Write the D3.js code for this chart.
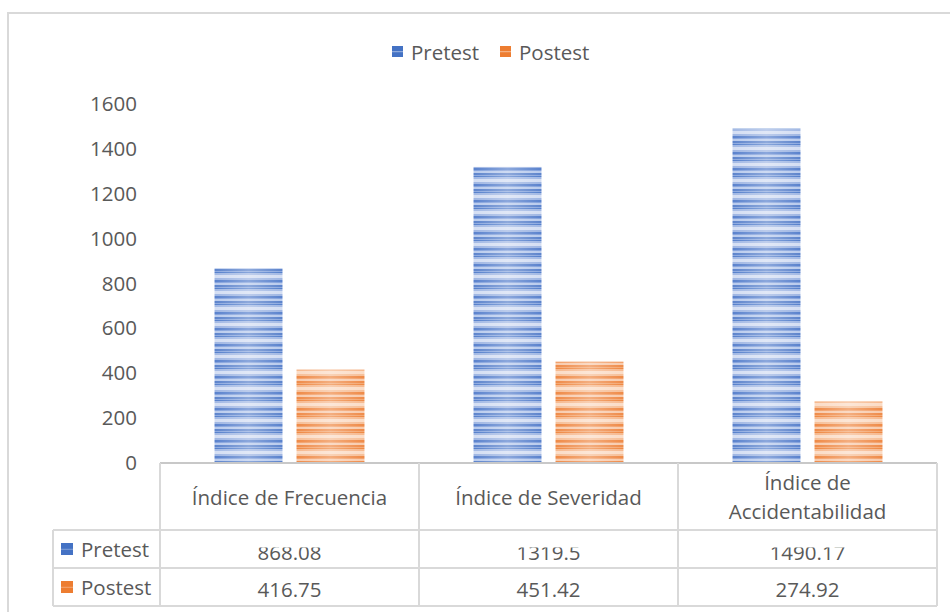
<!DOCTYPE html>
<html>
<head>
<meta charset="utf-8">
<script src="https://cdn.jsdelivr.net/npm/d3@7"></script>
<style>
  html, body { margin: 0; padding: 0; background: #fff; }
  svg { display: block; font-family: "Open Sans", "Noto Sans", sans-serif; }
</style>
</head>
<body>
<svg id="chart" width="950" height="612"></svg>
<script>
// ---- data ----
const categories = ["Índice de Frecuencia", "Índice de Severidad", "Índice de Accidentabilidad"];
const seriesNames = ["Pretest", "Postest"];
const pretestValues = [868.08, 1319.5, 1490.17];
const postestValues = [416.75, 451.42, 274.92];
const valueLabelsPretest = ["868.08", "1319.5", "1490.17"];
const valueLabelsPostest = ["416.75", "451.42", "274.92"];
const yTicks = [0, 200, 400, 600, 800, 1000, 1200, 1400, 1600];
const seriesColors = ["#4472C4", "#ED7D31"];

const seriesValues = [pretestValues, postestValues];
const seriesLabels = [valueLabelsPretest, valueLabelsPostest];

const svg = d3.select("#chart");
const textColor = "#595959";
const lineColor = "#d9d9d9";
const fs = 20.5;

// ---- layout ----
const plotLeft = 160, plotRight = 937;
const plotTop = 104, plotBottom = 463;
const headerBottom = 530, row1Bottom = 568, row2Bottom = 606;
const legendColLeft = 53;

// outer chart border
svg.append("rect").attr("x", 8).attr("y", 13).attr("width", 1000).attr("height", 700)
  .attr("fill", "#fff").attr("stroke", lineColor).attr("stroke-width", 2);

// ---- patterns ----
const defs = svg.append("defs");
function makePattern(id, stripes) {
  const p = defs.append("pattern").attr("id", id)
    .attr("patternUnits", "userSpaceOnUse").attr("width", 10).attr("height", 16);
  stripes.forEach(s => p.append("rect").attr("x", 0).attr("y", s[0]).attr("width", 10).attr("height", s[1]).attr("fill", s[2]));
}
makePattern("patBlue", [
  [0, 1, "#5580cc"], [1, 2, "#a3b9e4"], [3, 3, "#d4def3"], [6, 2, "#9fb6e3"],
  [8, 2, "#5a82cd"], [10, 1, "#84a2dc"], [11, 2, "#b9cbed"], [13, 2, "#5d84cc"], [15, 1, "#8eaadf"]
]);
makePattern("patOrange", [
  [0, 1, "#ef8842"], [1, 2, "#f6b98f"], [3, 3, "#fbdcc6"], [6, 2, "#f6bf98"],
  [8, 2, "#ef8a47"], [10, 1, "#f2a06a"], [11, 2, "#f8cbad"], [13, 2, "#ef8b49"], [15, 1, "#f3a874"]
]);
const glow = defs.append("linearGradient").attr("id", "glow").attr("x1", "0%").attr("x2", "100%").attr("y1", "0%").attr("y2", "0%");
glow.append("stop").attr("offset", "0%").attr("stop-color", "#fff").attr("stop-opacity", 0);
glow.append("stop").attr("offset", "50%").attr("stop-color", "#fff").attr("stop-opacity", 0.3);
glow.append("stop").attr("offset", "100%").attr("stop-color", "#fff").attr("stop-opacity", 0);
const patIds = ["patBlue", "patOrange"];

// legend swatch gradients
const swatchLight = ["#8faadc", "#f4b183"];
seriesColors.forEach((c, i) => {
  const g = defs.append("linearGradient").attr("id", "sw" + i).attr("x1", 0).attr("x2", 0).attr("y1", 0).attr("y2", 1);
  g.append("stop").attr("offset", "0%").attr("stop-color", c);
  g.append("stop").attr("offset", "45%").attr("stop-color", c);
  g.append("stop").attr("offset", "50%").attr("stop-color", swatchLight[i]);
  g.append("stop").attr("offset", "62%").attr("stop-color", c);
  g.append("stop").attr("offset", "100%").attr("stop-color", c);
});

// ---- scales ----
const x0 = d3.scaleBand().domain(categories).range([plotLeft, plotRight]).paddingInner(0).paddingOuter(0);
const x1 = d3.scaleBand().domain(seriesNames).range([0, x0.bandwidth()]).paddingInner(0.171).paddingOuter(0.665);
const y = d3.scaleLinear().domain([0, 1600]).range([plotBottom, plotTop]);

// ---- y axis ----
const yAxis = svg.append("g").attr("transform", `translate(${plotLeft},0)`)
  .call(d3.axisLeft(y).tickValues(yTicks).tickSize(0).tickPadding(23).tickFormat(d3.format("d")));
yAxis.select(".domain").remove();
yAxis.selectAll("text").attr("fill", textColor).style("font-size", fs + "px")
  .style("font-family", "'Open Sans', sans-serif");

// ---- bars ----
seriesNames.forEach((s, si) => {
  const g = svg.append("g");
  categories.forEach((c, ci) => {
    const v = seriesValues[si][ci];
    const bx = x0(c) + x1(s), bw = x1.bandwidth();
    g.append("rect").attr("x", bx).attr("y", y(v)).attr("width", bw).attr("height", y(0) - y(v))
      .attr("fill", `url(#${patIds[si]})`);
    g.append("rect").attr("x", bx).attr("y", y(v)).attr("width", bw).attr("height", y(0) - y(v))
      .attr("fill", "url(#glow)");
  });
});

// ---- top legend ----
const legendItems = [{ x: 392, tx: 411 }, { x: 500, tx: 519 }];
seriesNames.forEach((s, si) => {
  svg.append("rect").attr("x", legendItems[si].x).attr("y", 46).attr("width", 11).attr("height", 11)
    .attr("fill", `url(#sw${si})`);
  svg.append("text").attr("x", legendItems[si].tx).attr("y", 60).attr("fill", textColor)
    .style("font-size", fs + "px").text(s);
});

// ---- data table ----
const tbl = svg.append("g").attr("stroke", lineColor).attr("stroke-width", 2).attr("fill", "none");
tbl.append("line").attr("x1", plotLeft).attr("x2", plotRight).attr("y1", plotBottom).attr("y2", plotBottom).attr("stroke", "#c8c8c8");
[headerBottom, row1Bottom, row2Bottom].forEach(yy =>
  tbl.append("line").attr("x1", legendColLeft).attr("x2", plotRight).attr("y1", yy).attr("y2", yy));
const colEdges = [plotLeft].concat(categories.map(c => x0(c) + x0.bandwidth()));
colEdges.forEach(xx => tbl.append("line").attr("x1", xx).attr("x2", xx).attr("y1", plotBottom).attr("y2", row2Bottom));
tbl.append("line").attr("x1", legendColLeft).attr("x2", legendColLeft).attr("y1", headerBottom).attr("y2", row2Bottom);

// category headers (wrap)
categories.forEach(c => {
  const cx = x0(c) + x0.bandwidth() / 2;
  const t = svg.append("text").attr("x", cx).attr("text-anchor", "middle").attr("fill", textColor)
    .style("font-size", fs + "px");
  t.text(c);
  let lines = [c];
  if (t.node().getComputedTextLength() > x0.bandwidth() - 20) {
    const words = c.split(" ");
    lines = [words.slice(0, words.length - 1).join(" "), words[words.length - 1]];
  }
  t.text(null);
  const lh = 29;
  const yc = (plotBottom + headerBottom) / 2 + 1;
  lines.forEach((ln, i) => {
    t.append("tspan").attr("x", cx).attr("y", yc + (i - (lines.length - 1) / 2) * lh).attr("dy", "0.35em").text(ln);
  });
});

// clip for pretest row (value text top cut off as in original)
defs.append("clipPath").attr("id", "clipRow1").append("rect")
  .attr("x", plotLeft).attr("y", 547.5).attr("width", plotRight - plotLeft).attr("height", row1Bottom - 547.5);

const rowBaselines = [560, 597];
seriesNames.forEach((s, si) => {
  const rowTop = si === 0 ? headerBottom : row1Bottom;
  svg.append("rect").attr("x", 61).attr("y", rowTop + 13).attr("width", 12).attr("height", 12)
    .attr("fill", `url(#sw${si})`);
  svg.append("text").attr("x", 81).attr("y", (si === 0 ? 557 : 595)).attr("fill", textColor)
    .style("font-size", fs + "px").text(s);
  const g = svg.append("g");
  if (si === 0) g.attr("clip-path", "url(#clipRow1)");
  categories.forEach((c, ci) => {
    g.append("text").attr("x", x0(c) + x0.bandwidth() / 2).attr("y", rowBaselines[si])
      .attr("text-anchor", "middle").attr("fill", textColor).style("font-size", fs + "px")
      .text(seriesLabels[si][ci]);
  });
});
</script>
</body>
</html>
